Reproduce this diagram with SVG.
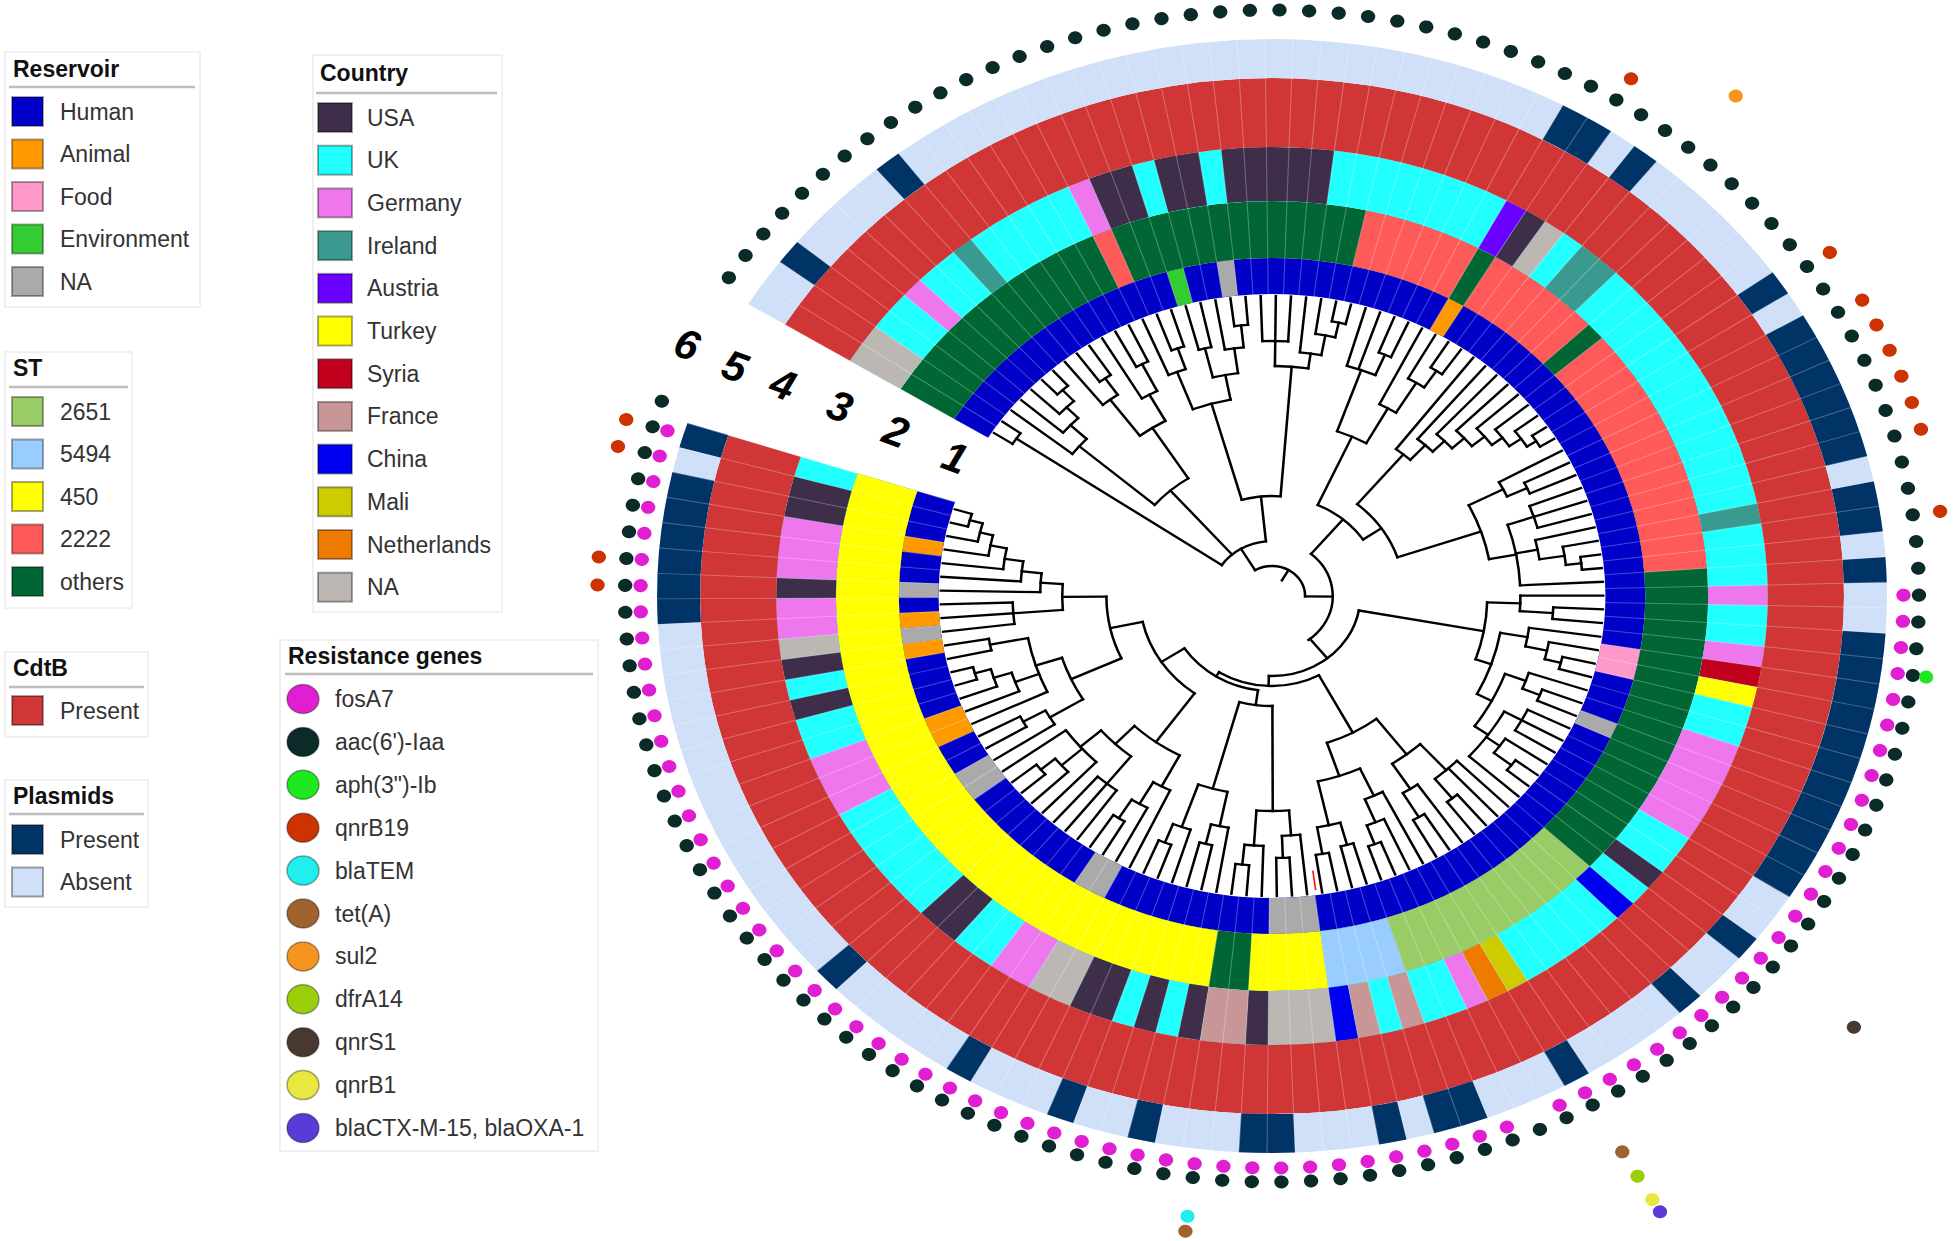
<svg xmlns="http://www.w3.org/2000/svg" width="1955" height="1241" viewBox="0 0 1955 1241">
<style>
text{font-family:"Liberation Sans",Arial,sans-serif}
.lg text{font-size:23px;fill:#333}
.lg .ttl{font-weight:bold;fill:#111}
.box{fill:#fff;stroke:#ececec;stroke-width:1.5}
.sep{stroke:#bdbdbd;stroke-width:2.5}
.sw{stroke:#000;stroke-opacity:.35;stroke-width:2}
.gc{stroke:#000;stroke-opacity:.35;stroke-width:1.5}
.ring{fill:none}
.tree{fill:none;stroke:#000;stroke-width:2.3;stroke-linecap:square}
.tree path{transform:rotate(calc(var(--t) * 2.625deg))}
.dots{fill:none;stroke-linecap:round;stroke-width:13}
.num{font-size:42px;font-weight:bold;font-style:italic;fill:#000;text-anchor:middle}
</style>
<rect width="1955" height="1241" fill="#fff"/>

<g id="rings" class="ring" transform="translate(1272 596) scale(1.104 1) rotate(211.6)">
<g stroke-width="36">
<circle r="320" pathLength="137.142857" stroke="#0000c8" stroke-dasharray="132 300"/>
<circle r="320" pathLength="137.142857" stroke="#33cc33" stroke-dasharray="1 300" stroke-dashoffset="-16"/>
<circle r="320" pathLength="137.142857" stroke="#aaaaaa" stroke-dasharray="1 45 1 22 3 10 2 8 2 9 1 2 1 300" stroke-dashoffset="-19"/>
<circle r="320" pathLength="137.142857" stroke="#ff9900" stroke-dasharray="1 81 2 4 1 1 1 4 1 300" stroke-dashoffset="-33"/>
<circle r="320" pathLength="137.142857" stroke="#ff99cc" stroke-dasharray="2 300" stroke-dashoffset="-60"/>
</g>
<g stroke-width="57">
<circle r="366.5" pathLength="137.142857" stroke="#006633" stroke-dasharray="132 300"/>
<circle r="366.5" pathLength="137.142857" stroke="#ff5a5a" stroke-dasharray="1 13 6 1 6 1 14 300" stroke-dashoffset="-13"/>
<circle r="366.5" pathLength="137.142857" stroke="#99cc66" stroke-dasharray="11 300" stroke-dashoffset="-73"/>
<circle r="366.5" pathLength="137.142857" stroke="#99ccff" stroke-dasharray="4 300" stroke-dashoffset="-84"/>
<circle r="366.5" pathLength="137.142857" stroke="#ffff00" stroke-dasharray="4 2 38 300" stroke-dashoffset="-88"/>
</g>
<g stroke-width="54">
<circle r="422" pathLength="137.142857" stroke="#22ffff" stroke-dasharray="132 300"/>
<circle r="422" pathLength="137.142857" stroke="#bdb7b3" stroke-dasharray="2 33 1 52 3 9 2 20 1 300"/>
<circle r="422" pathLength="137.142857" stroke="#ee77ee" stroke-dasharray="1 8 1 42 1 2 1 4 5 12 1 20 2 10 3 6 2 1 3 300" stroke-dashoffset="-4"/>
<circle r="422" pathLength="137.142857" stroke="#3a9a8f" stroke-dasharray="1 29 2 13 1 300" stroke-dashoffset="-7"/>
<circle r="422" pathLength="137.142857" stroke="#3f2e4a" stroke-dasharray="2 1 2 1 5 9 1 36 1 19 1 2 1 1 1 1 2 6 2 11 1 1 1 3 1 3 2 300" stroke-dashoffset="-14"/>
<circle r="422" pathLength="137.142857" stroke="#6a00ff" stroke-dasharray="1 300" stroke-dashoffset="-33"/>
<circle r="422" pathLength="137.142857" stroke="#c0001c" stroke-dasharray="1 300" stroke-dashoffset="-60"/>
<circle r="422" pathLength="137.142857" stroke="#ffff00" stroke-dasharray="1 300" stroke-dashoffset="-61"/>
<circle r="422" pathLength="137.142857" stroke="#0000f0" stroke-dasharray="1 13 1 300" stroke-dashoffset="-73"/>
<circle r="422" pathLength="137.142857" stroke="#cccc00" stroke-dasharray="1 300" stroke-dashoffset="-79"/>
<circle r="422" pathLength="137.142857" stroke="#ef7a00" stroke-dasharray="1 300" stroke-dashoffset="-80"/>
<circle r="422" pathLength="137.142857" stroke="#c89696" stroke-dasharray="1 1 1 5 2 300" stroke-dashoffset="-84"/>
</g>
<circle r="483.5" stroke-width="69" pathLength="137.142857" stroke="#d03636" stroke-dasharray="132 300"/>
<g stroke-width="39">
<circle r="537.5" pathLength="137.142857" stroke="#d0e0f8" stroke-dasharray="132 300"/>
<circle r="537.5" pathLength="137.142857" stroke="#003366" stroke-dasharray="1 4 1 25 2 1 1 6 1 1 6 1 2 1 1 2 11 2 1 2 1 4 1 3 2 1 1 3 2 3 1 2 1 3 1 5 1 15 6 1 1 300" stroke-dashoffset="-2"/>
</g>
<circle r="429.5" stroke-width="255" pathLength="137.142857" stroke="#fff" stroke-opacity="0.28" stroke-dasharray="0.05 0.95" stroke-dashoffset="0.025"/>
</g>

<g id="tree" class="tree" transform="translate(1272 596) scale(1.104 1) rotate(211.6)">
<circle r="280" pathLength="137.142857" stroke-dasharray="1 300" stroke-dashoffset="-0.5"/>
<circle r="280" pathLength="137.142857" stroke-dasharray="1 300" stroke-dashoffset="-5.5"/>
<circle r="265" pathLength="137.142857" stroke-dasharray="1.5 300" stroke-dashoffset="-4.5"/>
<circle r="250" pathLength="137.142857" stroke-dasharray="1.75 300" stroke-dashoffset="-3.5"/>
<circle r="230" pathLength="137.142857" stroke-dasharray="1.875 300" stroke-dashoffset="-2.5"/>
<circle r="265" pathLength="137.142857" stroke-dasharray="1 300" stroke-dashoffset="-8.5"/>
<circle r="245" pathLength="137.142857" stroke-dasharray="1.5 300" stroke-dashoffset="-7.5"/>
<circle r="260" pathLength="137.142857" stroke-dasharray="1 300" stroke-dashoffset="-11.5"/>
<circle r="230" pathLength="137.142857" stroke-dasharray="1.5 300" stroke-dashoffset="-10.5"/>
<circle r="200" pathLength="137.142857" stroke-dasharray="3 300" stroke-dashoffset="-8.25"/>
<circle r="140" pathLength="137.142857" stroke-dasharray="6.3125 300" stroke-dashoffset="-3.4375"/>
<circle r="262" pathLength="137.142857" stroke-dasharray="1 300" stroke-dashoffset="-14.5"/>
<circle r="240" pathLength="137.142857" stroke-dasharray="1.5 300" stroke-dashoffset="-13.5"/>
<circle r="255" pathLength="137.142857" stroke-dasharray="1 300" stroke-dashoffset="-16.5"/>
<circle r="272" pathLength="137.142857" stroke-dasharray="1 300" stroke-dashoffset="-19.5"/>
<circle r="250" pathLength="137.142857" stroke-dasharray="1.5 300" stroke-dashoffset="-18.5"/>
<circle r="225" pathLength="137.142857" stroke-dasharray="2.25 300" stroke-dashoffset="-17"/>
<circle r="200" pathLength="137.142857" stroke-dasharray="3.875 300" stroke-dashoffset="-14.25"/>
<circle r="255" pathLength="137.142857" stroke-dasharray="2 300" stroke-dashoffset="-21.5"/>
<circle r="280" pathLength="137.142857" stroke-dasharray="1 300" stroke-dashoffset="-26.5"/>
<circle r="265" pathLength="137.142857" stroke-dasharray="1.5 300" stroke-dashoffset="-25.5"/>
<circle r="245" pathLength="137.142857" stroke-dasharray="1.75 300" stroke-dashoffset="-24.5"/>
<circle r="230" pathLength="137.142857" stroke-dasharray="2.875 300" stroke-dashoffset="-22.5"/>
<circle r="100" pathLength="137.142857" stroke-dasharray="7.75 300" stroke-dashoffset="-16.1875"/>
<circle r="262" pathLength="137.142857" stroke-dasharray="1 300" stroke-dashoffset="-30.5"/>
<circle r="240" pathLength="137.142857" stroke-dasharray="2.5 300" stroke-dashoffset="-28.5"/>
<circle r="270" pathLength="137.142857" stroke-dasharray="1 300" stroke-dashoffset="-34.5"/>
<circle r="250" pathLength="137.142857" stroke-dasharray="1.5 300" stroke-dashoffset="-33.5"/>
<circle r="215" pathLength="137.142857" stroke-dasharray="1.75 300" stroke-dashoffset="-32.5"/>
<circle r="175" pathLength="137.142857" stroke-dasharray="3.625 300" stroke-dashoffset="-29.75"/>
<circle r="285" pathLength="137.142857" stroke-dasharray="1 300" stroke-dashoffset="-43.5"/>
<circle r="275" pathLength="137.142857" stroke-dasharray="1.5 300" stroke-dashoffset="-42.5"/>
<circle r="262" pathLength="137.142857" stroke-dasharray="1.75 300" stroke-dashoffset="-41.5"/>
<circle r="250" pathLength="137.142857" stroke-dasharray="1.875 300" stroke-dashoffset="-40.5"/>
<circle r="235" pathLength="137.142857" stroke-dasharray="1.94 300" stroke-dashoffset="-39.5"/>
<circle r="220" pathLength="137.142857" stroke-dasharray="1.97 300" stroke-dashoffset="-38.5"/>
<circle r="205" pathLength="137.142857" stroke-dasharray="1.99 300" stroke-dashoffset="-37.5"/>
<circle r="185" pathLength="137.142857" stroke-dasharray="1.99 300" stroke-dashoffset="-36.5"/>
<circle r="255" pathLength="137.142857" stroke-dasharray="1 300" stroke-dashoffset="-46.5"/>
<circle r="235" pathLength="137.142857" stroke-dasharray="1.5 300" stroke-dashoffset="-45.5"/>
<circle r="250" pathLength="137.142857" stroke-dasharray="2 300" stroke-dashoffset="-48.5"/>
<circle r="282" pathLength="137.142857" stroke-dasharray="1 300" stroke-dashoffset="-53.5"/>
<circle r="268" pathLength="137.142857" stroke-dasharray="1.5 300" stroke-dashoffset="-52.5"/>
<circle r="245" pathLength="137.142857" stroke-dasharray="1.75 300" stroke-dashoffset="-51.5"/>
<circle r="225" pathLength="137.142857" stroke-dasharray="6 300" stroke-dashoffset="-49.5"/>
<circle r="200" pathLength="137.142857" stroke-dasharray="6.25 300" stroke-dashoffset="-46.25"/>
<circle r="120" pathLength="137.142857" stroke-dasharray="11.875 300" stroke-dashoffset="-37.5"/>
<circle r="100" pathLength="137.142857" stroke-dasharray="11.875 300" stroke-dashoffset="-31.5625"/>
<circle r="255" pathLength="137.142857" stroke-dasharray="1 300" stroke-dashoffset="-57.5"/>
<circle r="225" pathLength="137.142857" stroke-dasharray="1.5 300" stroke-dashoffset="-56.5"/>
<circle r="270" pathLength="137.142857" stroke-dasharray="1 300" stroke-dashoffset="-61.5"/>
<circle r="255" pathLength="137.142857" stroke-dasharray="1.5 300" stroke-dashoffset="-60.5"/>
<circle r="235" pathLength="137.142857" stroke-dasharray="1.75 300" stroke-dashoffset="-59.5"/>
<circle r="262" pathLength="137.142857" stroke-dasharray="1 300" stroke-dashoffset="-64.5"/>
<circle r="245" pathLength="137.142857" stroke-dasharray="1.5 300" stroke-dashoffset="-63.5"/>
<circle r="258" pathLength="137.142857" stroke-dasharray="2 300" stroke-dashoffset="-66.5"/>
<circle r="275" pathLength="137.142857" stroke-dasharray="1 300" stroke-dashoffset="-70.5"/>
<circle r="255" pathLength="137.142857" stroke-dasharray="1.5 300" stroke-dashoffset="-69.5"/>
<circle r="240" pathLength="137.142857" stroke-dasharray="5 300" stroke-dashoffset="-67.5"/>
<circle r="225" pathLength="137.142857" stroke-dasharray="5.75 300" stroke-dashoffset="-64.25"/>
<circle r="210" pathLength="137.142857" stroke-dasharray="6.75 300" stroke-dashoffset="-60.375"/>
<circle r="195" pathLength="137.142857" stroke-dasharray="6.5 300" stroke-dashoffset="-57.25"/>
<circle r="260" pathLength="137.142857" stroke-dasharray="1 300" stroke-dashoffset="-75.5"/>
<circle r="235" pathLength="137.142857" stroke-dasharray="2.5 300" stroke-dashoffset="-73.5"/>
<circle r="258" pathLength="137.142857" stroke-dasharray="1 300" stroke-dashoffset="-78.5"/>
<circle r="230" pathLength="137.142857" stroke-dasharray="1.5 300" stroke-dashoffset="-77.5"/>
<circle r="200" pathLength="137.142857" stroke-dasharray="3.5 300" stroke-dashoffset="-74.75"/>
<circle r="265" pathLength="137.142857" stroke-dasharray="1 300" stroke-dashoffset="-82.5"/>
<circle r="245" pathLength="137.142857" stroke-dasharray="1.5 300" stroke-dashoffset="-81.5"/>
<circle r="220" pathLength="137.142857" stroke-dasharray="1.75 300" stroke-dashoffset="-80.5"/>
<circle r="258" pathLength="137.142857" stroke-dasharray="1 300" stroke-dashoffset="-84.5"/>
<circle r="262" pathLength="137.142857" stroke-dasharray="1 300" stroke-dashoffset="-86.5"/>
<circle r="235" pathLength="137.142857" stroke-dasharray="2 300" stroke-dashoffset="-85"/>
<circle r="190" pathLength="137.142857" stroke-dasharray="4.625 300" stroke-dashoffset="-81.375"/>
<circle r="155" pathLength="137.142857" stroke-dasharray="7.19 300" stroke-dashoffset="-76.5"/>
<circle r="262" pathLength="137.142857" stroke-dasharray="1 300" stroke-dashoffset="-89.5"/>
<circle r="240" pathLength="137.142857" stroke-dasharray="1.5 300" stroke-dashoffset="-88.5"/>
<circle r="270" pathLength="137.142857" stroke-dasharray="1 300" stroke-dashoffset="-92.5"/>
<circle r="250" pathLength="137.142857" stroke-dasharray="1.5 300" stroke-dashoffset="-91.5"/>
<circle r="215" pathLength="137.142857" stroke-dasharray="3 300" stroke-dashoffset="-89.25"/>
<circle r="255" pathLength="137.142857" stroke-dasharray="1 300" stroke-dashoffset="-95.5"/>
<circle r="235" pathLength="137.142857" stroke-dasharray="1.5 300" stroke-dashoffset="-94.5"/>
<circle r="265" pathLength="137.142857" stroke-dasharray="1 300" stroke-dashoffset="-98.5"/>
<circle r="245" pathLength="137.142857" stroke-dasharray="1.5 300" stroke-dashoffset="-97.5"/>
<circle r="200" pathLength="137.142857" stroke-dasharray="3 300" stroke-dashoffset="-95.25"/>
<circle r="110" pathLength="137.142857" stroke-dasharray="6 300" stroke-dashoffset="-90.75"/>
<circle r="262" pathLength="137.142857" stroke-dasharray="1 300" stroke-dashoffset="-102.5"/>
<circle r="240" pathLength="137.142857" stroke-dasharray="1.5 300" stroke-dashoffset="-101.5"/>
<circle r="215" pathLength="137.142857" stroke-dasharray="1.75 300" stroke-dashoffset="-100.5"/>
<circle r="240" pathLength="137.142857" stroke-dasharray="2 300" stroke-dashoffset="-104.5"/>
<circle r="272" pathLength="137.142857" stroke-dasharray="1 300" stroke-dashoffset="-109.5"/>
<circle r="255" pathLength="137.142857" stroke-dasharray="1.5 300" stroke-dashoffset="-108.5"/>
<circle r="230" pathLength="137.142857" stroke-dasharray="4 300" stroke-dashoffset="-107.5"/>
<circle r="205" pathLength="137.142857" stroke-dasharray="4 300" stroke-dashoffset="-105.5"/>
<circle r="180" pathLength="137.142857" stroke-dasharray="6.125 300" stroke-dashoffset="-101.375"/>
<circle r="258" pathLength="137.142857" stroke-dasharray="1 300" stroke-dashoffset="-113.5"/>
<circle r="235" pathLength="137.142857" stroke-dasharray="1.5 300" stroke-dashoffset="-112.5"/>
<circle r="280" pathLength="137.142857" stroke-dasharray="1 300" stroke-dashoffset="-118.5"/>
<circle r="265" pathLength="137.142857" stroke-dasharray="1.5 300" stroke-dashoffset="-117.5"/>
<circle r="248" pathLength="137.142857" stroke-dasharray="1.75 300" stroke-dashoffset="-116.5"/>
<circle r="260" pathLength="137.142857" stroke-dasharray="1 300" stroke-dashoffset="-120.5"/>
<circle r="225" pathLength="137.142857" stroke-dasharray="5.5 300" stroke-dashoffset="-115.5"/>
<circle r="200" pathLength="137.142857" stroke-dasharray="5 300" stroke-dashoffset="-113.25"/>
<circle r="284" pathLength="137.142857" stroke-dasharray="1 300" stroke-dashoffset="-130.5"/>
<circle r="272" pathLength="137.142857" stroke-dasharray="1.5 300" stroke-dashoffset="-129.5"/>
<circle r="260" pathLength="137.142857" stroke-dasharray="1.75 300" stroke-dashoffset="-128.5"/>
<circle r="245" pathLength="137.142857" stroke-dasharray="1.875 300" stroke-dashoffset="-127.5"/>
<circle r="228" pathLength="137.142857" stroke-dasharray="1.94 300" stroke-dashoffset="-126.5"/>
<circle r="210" pathLength="137.142857" stroke-dasharray="1.97 300" stroke-dashoffset="-125.5"/>
<circle r="235" pathLength="137.142857" stroke-dasharray="2 300" stroke-dashoffset="-122.5"/>
<circle r="190" pathLength="137.142857" stroke-dasharray="2.985 300" stroke-dashoffset="-123.5"/>
<circle r="150" pathLength="137.142857" stroke-dasharray="9.25 300" stroke-dashoffset="-115.75"/>
<circle r="120" pathLength="137.142857" stroke-dasharray="15.94 300" stroke-dashoffset="-104.44"/>
<circle r="95" pathLength="137.142857" stroke-dasharray="18.65 300" stroke-dashoffset="-93.75"/>
<circle r="90" pathLength="137.142857" stroke-dasharray="22.98 300" stroke-dashoffset="-80.09"/>
<circle r="80" pathLength="137.142857" stroke-dasharray="31.08 300" stroke-dashoffset="-60.5"/>
<circle r="55" pathLength="137.142857" stroke-dasharray="39.27 300" stroke-dashoffset="-37.5"/>
<circle r="55" pathLength="137.142857" stroke-dasharray="19.06 300" stroke-dashoffset="-1"/>
<circle r="30" pathLength="137.142857" stroke-dasharray="46.24 300" stroke-dashoffset="-10.53"/>
<path style="--t:1" d="M55 0H280"/>
<path style="--t:0.5" d="M280 0H300"/>
<path style="--t:1.5" d="M280 0H300"/>
<path style="--t:6.59" d="M55 0H140"/>
<path style="--t:3.4375" d="M140 0H230"/>
<path style="--t:9.75" d="M140 0H200"/>
<path style="--t:2.5" d="M230 0H300"/>
<path style="--t:4.375" d="M230 0H250"/>
<path style="--t:3.5" d="M250 0H300"/>
<path style="--t:5.25" d="M250 0H265"/>
<path style="--t:4.5" d="M265 0H300"/>
<path style="--t:6" d="M265 0H280"/>
<path style="--t:5.5" d="M280 0H300"/>
<path style="--t:6.5" d="M280 0H300"/>
<path style="--t:8.25" d="M200 0H245"/>
<path style="--t:11.25" d="M200 0H230"/>
<path style="--t:7.5" d="M245 0H300"/>
<path style="--t:9" d="M245 0H265"/>
<path style="--t:8.5" d="M265 0H300"/>
<path style="--t:9.5" d="M265 0H300"/>
<path style="--t:10.5" d="M230 0H300"/>
<path style="--t:12" d="M230 0H260"/>
<path style="--t:11.5" d="M260 0H300"/>
<path style="--t:12.5" d="M260 0H300"/>
<path style="--t:20.06" d="M55 0H100"/>
<path style="--t:16.19" d="M100 0H200"/>
<path style="--t:23.94" d="M100 0H230"/>
<path style="--t:14.25" d="M200 0H240"/>
<path style="--t:18.125" d="M200 0H225"/>
<path style="--t:13.5" d="M240 0H300"/>
<path style="--t:15" d="M240 0H262"/>
<path style="--t:14.5" d="M262 0H300"/>
<path style="--t:15.5" d="M262 0H300"/>
<path style="--t:17" d="M225 0H255"/>
<path style="--t:19.25" d="M225 0H250"/>
<path style="--t:16.5" d="M255 0H300"/>
<path style="--t:17.5" d="M255 0H300"/>
<path style="--t:18.5" d="M250 0H300"/>
<path style="--t:20" d="M250 0H272"/>
<path style="--t:19.5" d="M272 0H300"/>
<path style="--t:20.5" d="M272 0H300"/>
<path style="--t:22.5" d="M230 0H255"/>
<path style="--t:25.375" d="M230 0H245"/>
<path style="--t:21.5" d="M255 0H300"/>
<path style="--t:22.5" d="M255 0H300"/>
<path style="--t:23.5" d="M255 0H300"/>
<path style="--t:24.5" d="M245 0H300"/>
<path style="--t:26.25" d="M245 0H265"/>
<path style="--t:25.5" d="M265 0H300"/>
<path style="--t:27" d="M265 0H280"/>
<path style="--t:26.5" d="M280 0H300"/>
<path style="--t:27.5" d="M280 0H300"/>
<path style="--t:37.5" d="M55 0H100"/>
<path style="--t:31.5625" d="M100 0H175"/>
<path style="--t:43.4375" d="M100 0H120"/>
<path style="--t:29.75" d="M175 0H240"/>
<path style="--t:33.375" d="M175 0H215"/>
<path style="--t:28.5" d="M240 0H300"/>
<path style="--t:29.5" d="M240 0H300"/>
<path style="--t:31" d="M240 0H262"/>
<path style="--t:30.5" d="M262 0H300"/>
<path style="--t:31.5" d="M262 0H300"/>
<path style="--t:32.5" d="M215 0H300"/>
<path style="--t:34.25" d="M215 0H250"/>
<path style="--t:33.5" d="M250 0H300"/>
<path style="--t:35" d="M250 0H270"/>
<path style="--t:34.5" d="M270 0H300"/>
<path style="--t:35.5" d="M270 0H300"/>
<path style="--t:37.5" d="M120 0H185"/>
<path style="--t:49.375" d="M120 0H200"/>
<path style="--t:36.5" d="M185 0H300"/>
<path style="--t:38.49" d="M185 0H205"/>
<path style="--t:37.5" d="M205 0H300"/>
<path style="--t:39.485" d="M205 0H220"/>
<path style="--t:38.5" d="M220 0H300"/>
<path style="--t:40.47" d="M220 0H235"/>
<path style="--t:39.5" d="M235 0H300"/>
<path style="--t:41.44" d="M235 0H250"/>
<path style="--t:40.5" d="M250 0H300"/>
<path style="--t:42.375" d="M250 0H262"/>
<path style="--t:41.5" d="M262 0H300"/>
<path style="--t:43.25" d="M262 0H275"/>
<path style="--t:42.5" d="M275 0H300"/>
<path style="--t:44" d="M275 0H285"/>
<path style="--t:43.5" d="M285 0H300"/>
<path style="--t:44.5" d="M285 0H300"/>
<path style="--t:46.25" d="M200 0H235"/>
<path style="--t:52.5" d="M200 0H225"/>
<path style="--t:45.5" d="M235 0H300"/>
<path style="--t:47" d="M235 0H255"/>
<path style="--t:46.5" d="M255 0H300"/>
<path style="--t:47.5" d="M255 0H300"/>
<path style="--t:49.5" d="M225 0H250"/>
<path style="--t:52.375" d="M225 0H245"/>
<path style="--t:55.5" d="M225 0H300"/>
<path style="--t:48.5" d="M250 0H300"/>
<path style="--t:49.5" d="M250 0H300"/>
<path style="--t:50.5" d="M250 0H300"/>
<path style="--t:51.5" d="M245 0H300"/>
<path style="--t:53.25" d="M245 0H268"/>
<path style="--t:52.5" d="M268 0H300"/>
<path style="--t:54" d="M268 0H282"/>
<path style="--t:53.5" d="M282 0H300"/>
<path style="--t:54.5" d="M282 0H300"/>
<path style="--t:76.04" d="M55 0H80"/>
<path style="--t:60.5" d="M80 0H195"/>
<path style="--t:57.25" d="M195 0H225"/>
<path style="--t:63.75" d="M195 0H210"/>
<path style="--t:56.5" d="M225 0H300"/>
<path style="--t:58" d="M225 0H255"/>
<path style="--t:57.5" d="M255 0H300"/>
<path style="--t:58.5" d="M255 0H300"/>
<path style="--t:60.375" d="M210 0H235"/>
<path style="--t:67.125" d="M210 0H225"/>
<path style="--t:59.5" d="M235 0H300"/>
<path style="--t:61.25" d="M235 0H255"/>
<path style="--t:60.5" d="M255 0H300"/>
<path style="--t:62" d="M255 0H270"/>
<path style="--t:61.5" d="M270 0H300"/>
<path style="--t:62.5" d="M270 0H300"/>
<path style="--t:64.25" d="M225 0H245"/>
<path style="--t:70" d="M225 0H240"/>
<path style="--t:63.5" d="M245 0H300"/>
<path style="--t:65" d="M245 0H262"/>
<path style="--t:64.5" d="M262 0H300"/>
<path style="--t:65.5" d="M262 0H300"/>
<path style="--t:67.5" d="M240 0H258"/>
<path style="--t:70.25" d="M240 0H255"/>
<path style="--t:72.5" d="M240 0H300"/>
<path style="--t:66.5" d="M258 0H300"/>
<path style="--t:67.5" d="M258 0H300"/>
<path style="--t:68.5" d="M258 0H300"/>
<path style="--t:69.5" d="M255 0H300"/>
<path style="--t:71" d="M255 0H275"/>
<path style="--t:70.5" d="M275 0H300"/>
<path style="--t:71.5" d="M275 0H300"/>
<path style="--t:91.58" d="M80 0H90"/>
<path style="--t:80.09" d="M90 0H155"/>
<path style="--t:76.5" d="M155 0H200"/>
<path style="--t:83.69" d="M155 0H190"/>
<path style="--t:74.75" d="M200 0H235"/>
<path style="--t:78.25" d="M200 0H230"/>
<path style="--t:73.5" d="M235 0H300"/>
<path style="--t:74.5" d="M235 0H300"/>
<path style="--t:76" d="M235 0H260"/>
<path style="--t:75.5" d="M260 0H300"/>
<path style="--t:76.5" d="M260 0H300"/>
<path style="--t:77.5" d="M230 0H300"/>
<path style="--t:79" d="M230 0H258"/>
<path style="--t:78.5" d="M258 0H300"/>
<path style="--t:79.5" d="M258 0H300"/>
<path style="--t:81.375" d="M190 0H220"/>
<path style="--t:86" d="M190 0H235"/>
<path style="--t:80.5" d="M220 0H300"/>
<path style="--t:82.25" d="M220 0H245"/>
<path style="--t:81.5" d="M245 0H300"/>
<path style="--t:83" d="M245 0H265"/>
<path style="--t:82.5" d="M265 0H300"/>
<path style="--t:83.5" d="M265 0H300"/>
<path style="--t:85" d="M235 0H258"/>
<path style="--t:87" d="M235 0H262"/>
<path style="--t:84.5" d="M258 0H300"/>
<path style="--t:85.5" d="M258 0H300"/>
<path style="--t:86.5" d="M262 0H300"/>
<path style="--t:87.5" d="M262 0H300"/>
<path style="--t:103.07" d="M90 0H95"/>
<path style="--t:93.75" d="M95 0H110"/>
<path style="--t:90.75" d="M110 0H215"/>
<path style="--t:96.75" d="M110 0H200"/>
<path style="--t:89.25" d="M215 0H240"/>
<path style="--t:92.25" d="M215 0H250"/>
<path style="--t:88.5" d="M240 0H300"/>
<path style="--t:90" d="M240 0H262"/>
<path style="--t:89.5" d="M262 0H300"/>
<path style="--t:90.5" d="M262 0H300"/>
<path style="--t:91.5" d="M250 0H300"/>
<path style="--t:93" d="M250 0H270"/>
<path style="--t:92.5" d="M270 0H300"/>
<path style="--t:93.5" d="M270 0H300"/>
<path style="--t:95.25" d="M200 0H235"/>
<path style="--t:98.25" d="M200 0H245"/>
<path style="--t:94.5" d="M235 0H300"/>
<path style="--t:96" d="M235 0H255"/>
<path style="--t:95.5" d="M255 0H300"/>
<path style="--t:96.5" d="M255 0H300"/>
<path style="--t:97.5" d="M245 0H300"/>
<path style="--t:99" d="M245 0H265"/>
<path style="--t:98.5" d="M265 0H300"/>
<path style="--t:99.5" d="M265 0H300"/>
<path style="--t:112.4" d="M95 0H120"/>
<path style="--t:104.44" d="M120 0H180"/>
<path style="--t:120.375" d="M120 0H150"/>
<path style="--t:101.375" d="M180 0H215"/>
<path style="--t:107.5" d="M180 0H205"/>
<path style="--t:100.5" d="M215 0H300"/>
<path style="--t:102.25" d="M215 0H240"/>
<path style="--t:101.5" d="M240 0H300"/>
<path style="--t:103" d="M240 0H262"/>
<path style="--t:102.5" d="M262 0H300"/>
<path style="--t:103.5" d="M262 0H300"/>
<path style="--t:105.5" d="M205 0H240"/>
<path style="--t:109.5" d="M205 0H230"/>
<path style="--t:104.5" d="M240 0H300"/>
<path style="--t:105.5" d="M240 0H300"/>
<path style="--t:106.5" d="M240 0H300"/>
<path style="--t:107.5" d="M230 0H300"/>
<path style="--t:109.25" d="M230 0H255"/>
<path style="--t:111.5" d="M230 0H300"/>
<path style="--t:108.5" d="M255 0H300"/>
<path style="--t:110" d="M255 0H272"/>
<path style="--t:109.5" d="M272 0H300"/>
<path style="--t:110.5" d="M272 0H300"/>
<path style="--t:115.75" d="M150 0H200"/>
<path style="--t:125" d="M150 0H190"/>
<path style="--t:113.25" d="M200 0H235"/>
<path style="--t:118.25" d="M200 0H225"/>
<path style="--t:112.5" d="M235 0H300"/>
<path style="--t:114" d="M235 0H258"/>
<path style="--t:113.5" d="M258 0H300"/>
<path style="--t:114.5" d="M258 0H300"/>
<path style="--t:115.5" d="M225 0H300"/>
<path style="--t:117.375" d="M225 0H248"/>
<path style="--t:121" d="M225 0H260"/>
<path style="--t:116.5" d="M248 0H300"/>
<path style="--t:118.25" d="M248 0H265"/>
<path style="--t:117.5" d="M265 0H300"/>
<path style="--t:119" d="M265 0H280"/>
<path style="--t:118.5" d="M280 0H300"/>
<path style="--t:119.5" d="M280 0H300"/>
<path style="--t:120.5" d="M260 0H300"/>
<path style="--t:121.5" d="M260 0H300"/>
<path style="--t:123.5" d="M190 0H235"/>
<path style="--t:126.485" d="M190 0H210"/>
<path style="--t:122.5" d="M235 0H300"/>
<path style="--t:123.5" d="M235 0H300"/>
<path style="--t:124.5" d="M235 0H300"/>
<path style="--t:125.5" d="M210 0H300"/>
<path style="--t:127.47" d="M210 0H228"/>
<path style="--t:126.5" d="M228 0H300"/>
<path style="--t:128.44" d="M228 0H245"/>
<path style="--t:127.5" d="M245 0H300"/>
<path style="--t:129.375" d="M245 0H260"/>
<path style="--t:128.5" d="M260 0H300"/>
<path style="--t:130.25" d="M260 0H272"/>
<path style="--t:129.5" d="M272 0H300"/>
<path style="--t:131" d="M272 0H284"/>
<path style="--t:130.5" d="M284 0H300"/>
<path style="--t:131.5" d="M284 0H300"/>
<path style="--t:10.53" d="M30 0H55"/>
<path style="--t:56.77" d="M30 0H55"/>
<path style="--t:33.65" d="M18 0H30"/>
<path style="--t:87.9;stroke:#ff2020;stroke-width:1.6" d="M278 0H296"/>
</g>

<g id="gene-dots" class="dots" transform="translate(1272 596) scale(1.104 1) rotate(211.6)">
<circle r="586" pathLength="137.142857" stroke="#0b2b29" stroke-dashoffset="-0.5" stroke-dasharray="0 1 0 1 0 1 0 1 0 1 0 1 0 1 0 1 0 1 0 1 0 1 0 1 0 1 0 1 0 1 0 1 0 1 0 1 0 1 0 1 0 1 0 1 0 1 0 1 0 1 0 1 0 1 0 1 0 1 0 1 0 1 0 1 0 1 0 1 0 1 0 1 0 1 0 1 0 1 0 1 0 1 0 1 0 1 0 1 0 1 0 1 0 1 0 1 0 1 0 1 0 1 0 1 0 1 0 1 0 1 0 1 0 1 0 1 0 1 0 1 0 1 0 1 0 1 0 1 0 1 0 1 0 1 0 1 0 1 0 1 0 1 0 1 0 1 0 1 0 1 0 1 0 1 0 1 0 1 0 1 0 1 0 1 0 1 0 1 0 1 0 1 0 1 0 1 0 1 0 1 0 1 0 1 0 1 0 1 0 1 0 1 0 1 0 1 0 1 0 1 0 1 0 1 0 1 0 1 0 1 0 1 0 1 0 1 0 1 0 1 0 1 0 1 0 1 0 1 0 1 0 1 0 1 0 1 0 1 0 1 0 1 0 1 0 1 0 1 0 1 0 1 0 1 0 1 0 1 0 1 0 1 0 1 0 6.142857"/>
<circle r="572" pathLength="137.142857" stroke="#e01ed2" stroke-dashoffset="-56.5" stroke-dasharray="0 1 0 1 0 1 0 1 0 1 0 1 0 1 0 1 0 1 0 1 0 1 0 1 0 1 0 1 0 1 0 1 0 1 0 1 0 1 0 1 0 1 0 1 0 1 0 1 0 2 0 1 0 1 0 1 0 1 0 1 0 1 0 1 0 1 0 1 0 1 0 1 0 1 0 1 0 1 0 1 0 1 0 1 0 1 0 1 0 1 0 1 0 1 0 1 0 1 0 1 0 1 0 1 0 1 0 1 0 1 0 1 0 1 0 1 0 1 0 1 0 1 0 1 0 1 0 1 0 1 0 1 0 1 0 1 0 1 0 1 0 1 0 1 0 1 0 1 0 100"/>
<circle r="611" pathLength="137.142857" stroke="#cc3300" stroke-dashoffset="-34.5" stroke-dasharray="0 9 0 2 0 1 0 1 0 1 0 1 0 1 0 3 0 72 0 1 0 4 0 1 0 100"/>
<circle r="598" pathLength="137.142857" stroke="#1ee81e" stroke-dashoffset="-59.5" stroke-dasharray="0 300"/>
<circle r="625" pathLength="137.142857" stroke="#22eeee" stroke-dashoffset="-93.5" stroke-dasharray="0 300"/>
<circle r="640" pathLength="137.142857" stroke="#a0632f" stroke-dashoffset="-79.5" stroke-dasharray="0 14 0 300"/>
<circle r="653" pathLength="137.142857" stroke="#f5941e" stroke-dashoffset="-37.5" stroke-dasharray="0 300"/>
<circle r="668" pathLength="137.142857" stroke="#9acd0a" stroke-dashoffset="-79.5" stroke-dasharray="0 300"/>
<circle r="681" pathLength="137.142857" stroke="#473830" stroke-dashoffset="-71.5" stroke-dasharray="0 300"/>
<circle r="695" pathLength="137.142857" stroke="#e8e840" stroke-dashoffset="-79.5" stroke-dasharray="0 300"/>
<circle r="709" pathLength="137.142857" stroke="#5a3ad8" stroke-dashoffset="-79.5" stroke-dasharray="0 300"/>
</g>

<g id="ring-labels">
<text class="num" x="687" y="359" transform="rotate(20 687 344)">6</text>
<text class="num" x="735" y="381" transform="rotate(20 735 366)">5</text>
<text class="num" x="783" y="399" transform="rotate(20 783 384)">4</text>
<text class="num" x="840" y="421" transform="rotate(20 840 406)">3</text>
<text class="num" x="896" y="446" transform="rotate(20 896 431)">2</text>
<text class="num" x="955" y="472" transform="rotate(20 955 457)">1</text>
</g>

<g id="legend-reservoir" class="lg">
<rect class="box" x="5" y="52" width="195" height="255"/>
<text class="ttl" x="13" y="77">Reservoir</text>
<line class="sep" x1="9" y1="87" x2="195" y2="87"/>
<rect class="sw" x="12" y="97" width="31" height="29" fill="#0000c8"/><text x="60" y="119.5">Human</text>
<rect class="sw" x="12" y="139.5" width="31" height="29" fill="#ff9900"/><text x="60" y="162">Animal</text>
<rect class="sw" x="12" y="182" width="31" height="29" fill="#ff99cc"/><text x="60" y="204.5">Food</text>
<rect class="sw" x="12" y="224.5" width="31" height="29" fill="#33cc33"/><text x="60" y="247">Environment</text>
<rect class="sw" x="12" y="267" width="31" height="29" fill="#aaaaaa"/><text x="60" y="289.5">NA</text>
</g>

<g id="legend-st" class="lg">
<rect class="box" x="5" y="352" width="127" height="256"/>
<text class="ttl" x="13" y="376">ST</text>
<line class="sep" x1="9" y1="387" x2="128" y2="387"/>
<rect class="sw" x="12" y="397" width="31" height="29" fill="#99cc66"/><text x="60" y="419.5">2651</text>
<rect class="sw" x="12" y="439.5" width="31" height="29" fill="#99ccff"/><text x="60" y="462">5494</text>
<rect class="sw" x="12" y="482" width="31" height="29" fill="#ffff00"/><text x="60" y="504.5">450</text>
<rect class="sw" x="12" y="524.5" width="31" height="29" fill="#ff5a5a"/><text x="60" y="547">2222</text>
<rect class="sw" x="12" y="567" width="31" height="29" fill="#006633"/><text x="60" y="589.5">others</text>
</g>

<g id="legend-cdtb" class="lg">
<rect class="box" x="5" y="652" width="143" height="85"/>
<text class="ttl" x="13" y="676">CdtB</text>
<line class="sep" x1="9" y1="687" x2="144" y2="687"/>
<rect class="sw" x="12" y="696" width="31" height="29" fill="#d03636"/><text x="60" y="718.5">Present</text>
</g>

<g id="legend-plasmids" class="lg">
<rect class="box" x="5" y="780" width="143" height="127"/>
<text class="ttl" x="13" y="804">Plasmids</text>
<line class="sep" x1="9" y1="814" x2="144" y2="814"/>
<rect class="sw" x="12" y="825" width="31" height="29" fill="#003366"/><text x="60" y="847.5">Present</text>
<rect class="sw" x="12" y="867.5" width="31" height="29" fill="#d0e0f8"/><text x="60" y="890">Absent</text>
</g>

<g id="legend-country" class="lg">
<rect class="box" x="313" y="55" width="189" height="557"/>
<text class="ttl" x="320" y="81">Country</text>
<line class="sep" x1="316" y1="93" x2="497" y2="93"/>
<rect class="sw" x="318" y="103" width="34" height="29" fill="#3f2e4a"/><text x="367" y="125.5">USA</text>
<rect class="sw" x="318" y="145.7" width="34" height="29" fill="#22ffff"/><text x="367" y="168.2">UK</text>
<rect class="sw" x="318" y="188.4" width="34" height="29" fill="#ee77ee"/><text x="367" y="210.9">Germany</text>
<rect class="sw" x="318" y="231.1" width="34" height="29" fill="#3a9a8f"/><text x="367" y="253.6">Ireland</text>
<rect class="sw" x="318" y="273.8" width="34" height="29" fill="#6a00ff"/><text x="367" y="296.3">Austria</text>
<rect class="sw" x="318" y="316.5" width="34" height="29" fill="#ffff00"/><text x="367" y="339">Turkey</text>
<rect class="sw" x="318" y="359.2" width="34" height="29" fill="#c0001c"/><text x="367" y="381.7">Syria</text>
<rect class="sw" x="318" y="401.9" width="34" height="29" fill="#c89696"/><text x="367" y="424.4">France</text>
<rect class="sw" x="318" y="444.6" width="34" height="29" fill="#0000f0"/><text x="367" y="467.1">China</text>
<rect class="sw" x="318" y="487.3" width="34" height="29" fill="#cccc00"/><text x="367" y="509.8">Mali</text>
<rect class="sw" x="318" y="530" width="34" height="29" fill="#ef7a00"/><text x="367" y="552.5">Netherlands</text>
<rect class="sw" x="318" y="572.7" width="34" height="29" fill="#bdb7b3"/><text x="367" y="595.2">NA</text>
</g>

<g id="legend-genes" class="lg">
<rect class="box" x="280" y="640" width="318" height="511"/>
<text class="ttl" x="288" y="664">Resistance genes</text>
<line class="sep" x1="285" y1="674" x2="593" y2="674"/>
<ellipse class="gc" cx="303" cy="699" rx="16" ry="14.5" fill="#e01ed2"/><text x="335" y="707">fosA7</text>
<ellipse class="gc" cx="303" cy="741.9" rx="16" ry="14.5" fill="#0b2b29"/><text x="335" y="749.9">aac(6')-Iaa</text>
<ellipse class="gc" cx="303" cy="784.8" rx="16" ry="14.5" fill="#1ee81e"/><text x="335" y="792.8">aph(3")-Ib</text>
<ellipse class="gc" cx="303" cy="827.7" rx="16" ry="14.5" fill="#cc3300"/><text x="335" y="835.7">qnrB19</text>
<ellipse class="gc" cx="303" cy="870.6" rx="16" ry="14.5" fill="#22eeee"/><text x="335" y="878.6">blaTEM</text>
<ellipse class="gc" cx="303" cy="913.5" rx="16" ry="14.5" fill="#a0632f"/><text x="335" y="921.5">tet(A)</text>
<ellipse class="gc" cx="303" cy="956.4" rx="16" ry="14.5" fill="#f5941e"/><text x="335" y="964.4">sul2</text>
<ellipse class="gc" cx="303" cy="999.3" rx="16" ry="14.5" fill="#9acd0a"/><text x="335" y="1007.3">dfrA14</text>
<ellipse class="gc" cx="303" cy="1042.2" rx="16" ry="14.5" fill="#473830"/><text x="335" y="1050.2">qnrS1</text>
<ellipse class="gc" cx="303" cy="1085.1" rx="16" ry="14.5" fill="#e8e840"/><text x="335" y="1093.1">qnrB1</text>
<ellipse class="gc" cx="303" cy="1128" rx="16" ry="14.5" fill="#5a3ad8"/><text x="335" y="1136">blaCTX-M-15, blaOXA-1</text>
</g>
</svg>
